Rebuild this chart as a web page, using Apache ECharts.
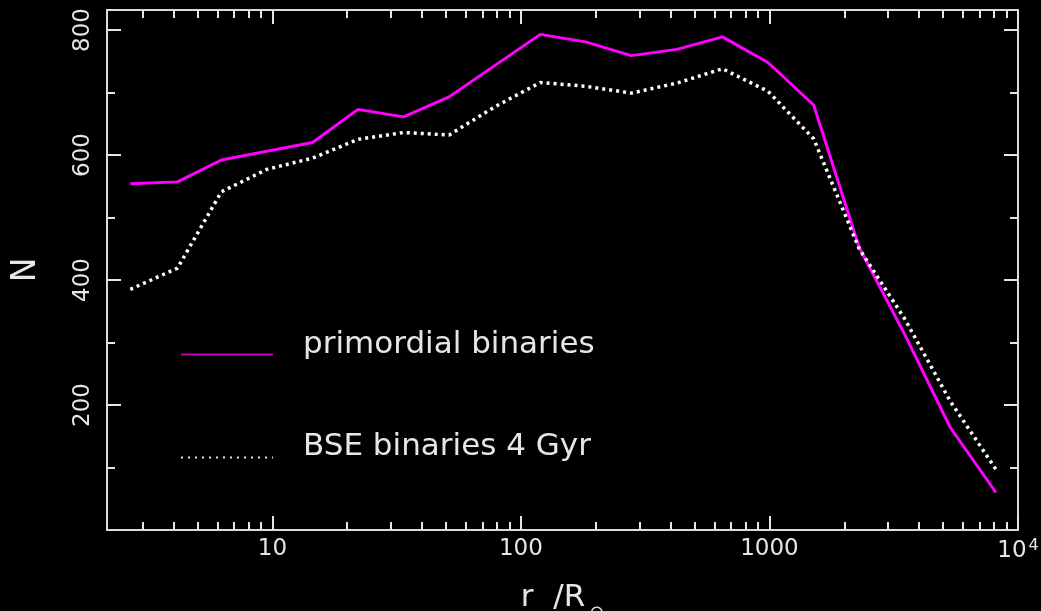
<!DOCTYPE html>
<html>
<head>
<meta charset="utf-8">
<script src="https://cdn.jsdelivr.net/npm/echarts@6/dist/echarts.min.js"></script>
<style>
  html, body { margin: 0; padding: 0; background: #000; }
  #chart { width: 1041px; height: 611px; }
</style>
</head>
<body>
<div id="chart"></div>
<script>
// Radius bin centres (solar radii), shared by both curves
const radius = [2.68, 4.15, 6.23, 9.50, 14.5, 22.1, 33.7, 51.4, 78.4, 119.6,
                182, 278, 424, 647, 986, 1506, 2296, 3500, 5340, 8150];
// Number of binaries per radius bin
const primordial = [554, 557, 592, 606, 620, 673, 661, 693, 743, 793,
                    781, 759, 769, 789, 748, 680, 452, 313, 164, 60];
const bse4Gyr    = [385, 419, 541, 577, 595, 625, 636, 632, 677, 716,
                    710, 699, 715, 738, 702, 626, 450, 338, 206, 97];

const seriesNames = ['primordial binaries', 'BSE binaries 4 Gyr'];

// Axis ticks and labels
const xMajor = [10, 100, 1000, 10000];
const xMinor = [];
[1, 10, 100, 1000].forEach(function (d) {
  for (let k = 2; k <= 9; k++) { if (k * d > 2.16) xMinor.push(k * d); }
});
const yMajor = [200, 400, 600, 800];
const yMinor = [100, 300, 500, 700];

const X_MIN = 2.16, X_MAX = 10000, Y_MIN = 0, Y_MAX = 832;
const FG = '#e6e6e6';
const FONT = 'DejaVu Sans';

function pairs(xs, ys) { return xs.map(function (x, i) { return [x, ys[i]]; }); }

function xAxisDef(pos, ticks, len, withLabels) {
  return {
    type: 'log', logBase: 10, position: pos, min: X_MIN, max: X_MAX,
    axisLine: { show: false, onZero: false },
    splitLine: { show: false },
    axisTick: { show: true, inside: true, length: len, customValues: ticks,
                lineStyle: { color: FG, width: 2 } },
    axisLabel: withLabels ? {
      show: true, customValues: xMajor, margin: 8,
      color: FG, fontFamily: FONT, fontSize: 23,
      formatter: function (v) { return v >= 9999 ? '{b|10}{sup|4}' : String(Math.round(v)); },
      rich: {
        b: { color: FG, fontFamily: FONT, fontSize: 23 },
        sup: { color: FG, fontFamily: FONT, fontSize: 16, verticalAlign: 'top', padding: [0, 0, 10, 2] }
      }
    } : { show: false }
  };
}

function yAxisDef(pos, ticks, len, withLabels) {
  return {
    type: 'value', position: pos, min: Y_MIN, max: Y_MAX,
    axisLine: { show: false, onZero: false },
    splitLine: { show: false },
    axisTick: { show: true, inside: true, length: len, customValues: ticks,
                lineStyle: { color: FG, width: 2 } },
    axisLabel: withLabels ? {
      show: true, customValues: yMajor, rotate: 90, margin: 12,
      color: FG, fontFamily: FONT, fontSize: 23
    } : { show: false }
  };
}

const xAxes = [
  xAxisDef('bottom', xMajor, 14, true),
  xAxisDef('bottom', xMinor, 8, false),
  xAxisDef('top', xMajor, 14, false),
  xAxisDef('top', xMinor, 8, false)
];
Object.assign(xAxes[0], {
  name: '{a|r  /R}{s|⊙}', nameLocation: 'middle', nameGap: 44,
  nameTextStyle: {
    rich: {
      a: { color: FG, fontFamily: FONT, fontSize: 31 },
      s: { color: FG, fontFamily: FONT, fontSize: 18, verticalAlign: 'bottom', padding: [30, 0, 0, 4] }
    }
  }
});

const yAxes = [
  yAxisDef('left', yMajor, 14, true),
  yAxisDef('left', yMinor, 8, false),
  yAxisDef('right', yMajor, 14, false),
  yAxisDef('right', yMinor, 8, false)
];
Object.assign(yAxes[0], {
  name: 'N', nameLocation: 'middle', nameRotate: 90, nameGap: 64,
  nameTextStyle: { color: FG, fontFamily: FONT, fontSize: 33 }
});

const chart = echarts.init(document.getElementById('chart'), null, { renderer: 'canvas' });
chart.setOption({
  animation: false,
  backgroundColor: '#000',
  grid: {
    left: 107, right: 23, top: 10, bottom: 81,
    outerBoundsMode: 'none', containLabel: false,
    show: true, borderColor: '#dcdcdc', borderWidth: 2, backgroundColor: 'transparent'
  },
  xAxis: xAxes,
  yAxis: yAxes,
  legend: {
    show: true,
    orient: 'vertical', left: 175, top: 324,
    itemWidth: 92, itemHeight: 16, itemGap: 71,
    formatter: function (name) { return '{t|' + name + '}'; },
    textStyle: {
      color: FG, fontFamily: FONT, fontSize: 31,
      rich: { t: { color: FG, fontFamily: FONT, fontSize: 31, padding: [0, 0, 20, 25] } }
    },
    data: [
      { name: seriesNames[0], itemStyle: { opacity: 0 },
        lineStyle: { color: '#c400c4', width: 2 } },
      { name: seriesNames[1], itemStyle: { opacity: 0 },
        lineStyle: { color: '#e0e0e0', width: 2, type: [2, 5] } }
    ]
  },
  series: [
    {
      name: seriesNames[0], type: 'line', xAxisIndex: 0, yAxisIndex: 0,
      symbol: 'none', smooth: false,
      lineStyle: { color: '#ff00ff', width: 3 },
      itemStyle: { color: '#ff00ff' },
      data: pairs(radius, primordial)
    },
    {
      name: seriesNames[1], type: 'line', xAxisIndex: 0, yAxisIndex: 0,
      symbol: 'none', smooth: false,
      lineStyle: { color: '#ffffff', width: 3.5, type: [3, 4], cap: 'butt' },
      itemStyle: { color: '#ffffff' },
      data: pairs(radius, bse4Gyr)
    }
  ]
});
</script>
</body>
</html>
